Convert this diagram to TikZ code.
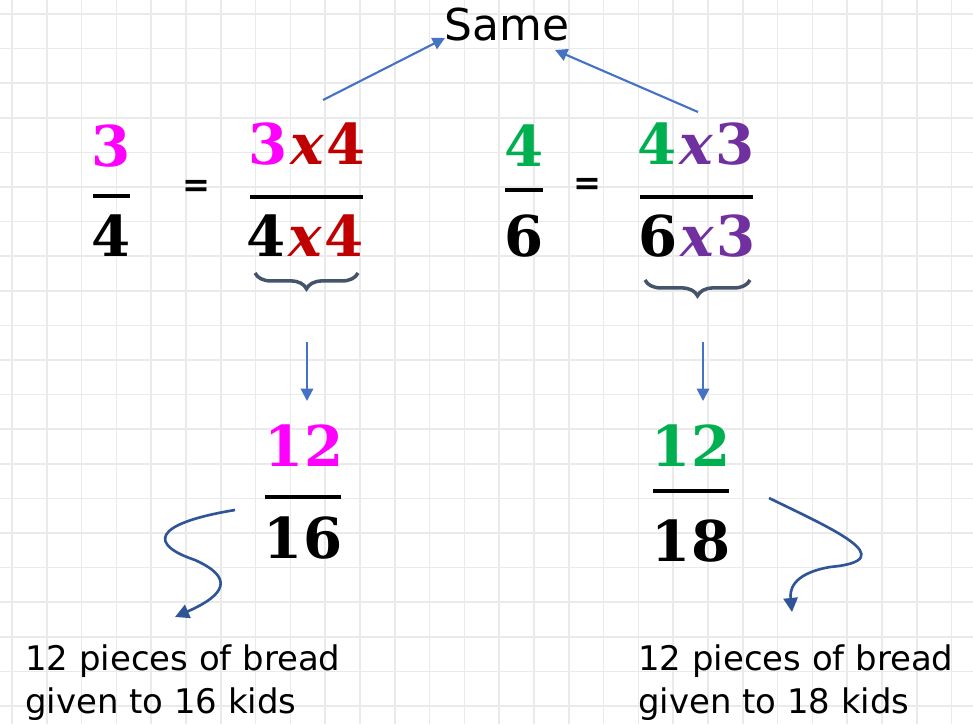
\documentclass[tikz,border=0pt]{standalone}
\usepackage{fontspec}
\usepackage{tikz}
\usetikzlibrary{arrows.meta,decorations.pathreplacing}
\newfontfamily\handfont{DejaVu Sans}
\newfontfamily\numfont{DejaVu Serif}
\definecolor{gridgray}{HTML}{EAEAEA}
\definecolor{fmagenta}{HTML}{FF00FF}
\definecolor{fred}{HTML}{C00000}
\definecolor{fgreen}{HTML}{00B050}
\definecolor{fpurple}{HTML}{7030A0}
\definecolor{arrowblue}{HTML}{4472C4}
\definecolor{curlblue}{HTML}{2F5597}
\definecolor{bracegray}{HTML}{44546A}
\newcommand{\tx}{\kern1.5pt{\itshape x}\kern1.5pt}
\tikzset{
  gridline/.style={gridgray, line width=1pt},
  digits/.style={inner sep=0pt, font=\numfont\bfseries\fontsize{32}{36}\selectfont},
  fracbar/.style={line width=2pt},
  eqsign/.style={inner sep=0pt, font=\handfont\bfseries\fontsize{19}{22}\selectfont},
  note/.style={inner sep=0pt, align=left, font=\handfont\fontsize{19.3}{24.4}\selectfont},
  brace/.style={bracegray, line width=2pt, decorate, decoration={brace, mirror, amplitude=9pt}},
  toSame/.style={arrowblue, line width=1.2pt, -{Triangle[length=7pt, width=7pt]}},
  down/.style={arrowblue, line width=1.2pt, -{Triangle[length=7pt, width=7pt]}},
  curl/.style={curlblue, line width=1.5pt, -{Triangle[length=8pt, width=8pt]}}
}
\begin{document}
\begin{tikzpicture}[x=0.02cm, y=-0.02cm]
  \useasboundingbox (0,0) rectangle (973,724);
  \fill[white] (0,0) rectangle (973,724);
  \foreach \i in {0,...,27} \draw[gridline] ({12+34.8*\i},0) -- ({12+34.8*\i},724);
  \foreach \j in {0,...,20} \draw[gridline] (0,{14+34.6*\j}) -- (973,{14+34.6*\j});

  \node[digits, text=fmagenta] (n1) at (111,146) {3};
  \draw[fracbar] (93,196) -- (130,196);
  \node[digits] (d1) at (111,236) {4};
  \node[eqsign] (eq1) at (196,188) {=};
  \node[digits] (n2) at (307,144) {\textcolor{fmagenta}{3}\textcolor{fred}{\tx4}};
  \draw[fracbar] (250,197) -- (363,197);
  \node[digits] (d2) at (305,236) {4\textcolor{fred}{\tx4}};
  \draw[brace] (255,273) -- (358,273);

  \node[digits, text=fgreen] (n3) at (524,146) {4};
  \draw[fracbar] (505,190) -- (543,190);
  \node[digits] (d3) at (524,236) {6};
  \node[eqsign] (eq2) at (587,186) {=};
  \node[digits] (n4) at (696,144) {\textcolor{fgreen}{4}\textcolor{fpurple}{\tx3}};
  \draw[fracbar] (640,197) -- (753,197);
  \node[digits] (d4) at (697,236) {6\textcolor{fpurple}{\tx3}};
  \draw[brace] (645,280) -- (750,280);

  \node[digits, text=fmagenta] (r1n) at (304,446) {12};
  \draw[fracbar] (265,497) -- (341,497);
  \node[digits] (r1d) at (303,538) {16};
  \node[digits, text=fgreen] (r2n) at (691,446) {12};
  \draw[fracbar] (653,491) -- (729,491);
  \node[digits] (r2d) at (691,541) {18};

  \node[inner sep=0pt, font=\handfont\fontsize{25}{30}\selectfont] (same) at (507,25) {Same};
  \node[note, anchor=west] (t1) at (25,683) {12 pieces of bread\\given to 16 kids};
  \node[note, anchor=west] (t2) at (638,683) {12 pieces of bread\\given to 18 kids};

  \coordinate (ls) at (323,100);
  \coordinate (le) at (445,38);
  \coordinate (rs) at (698,112);
  \coordinate (re) at (555,50);
  \draw[toSame] (ls) -- (le);
  \draw[toSame] (rs) -- (re);

  \coordinate (ds1) at (307,342);
  \coordinate (de1) at (307,401);
  \coordinate (ds2) at (703,342);
  \coordinate (de2) at (703,401);
  \draw[down] (ds1) -- (de1);
  \draw[down] (ds2) -- (de2);

  \coordinate (cs1) at (235,510);
  \coordinate (ce1) at (175,617);
  \coordinate (cs2) at (769,498);
  \coordinate (ce2) at (792,612);
  \draw[curl] (cs1) .. controls (150,524) and (150,545) .. (195,560) .. controls (235,578) and (225,595) .. (ce1);
  \draw[curl] (cs2) .. controls (830,528) and (905,560) .. (830,567) .. controls (790,574) and (790,592) .. (ce2);
\end{tikzpicture}
\end{document}
